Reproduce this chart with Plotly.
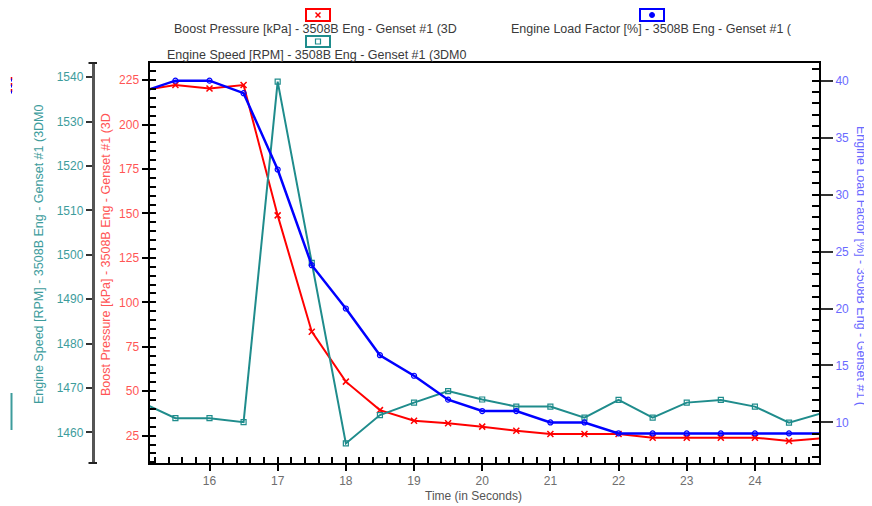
import plotly.graph_objects as go

# ---------------- data ----------------
time_s = [15.0, 15.5, 16.0, 16.5, 17.0, 17.5, 18.0, 18.5, 19.0, 19.5, 20.0,
          20.5, 21.0, 21.5, 22.0, 22.5, 23.0, 23.5, 24.0, 24.5, 25.0]
boost_kpa = [219.2, 222.2, 220.3, 222.2, 148.9, 83.5, 55.4, 39.4, 33.4, 32.0, 30.1,
             27.8, 26.0, 26.0, 26.0, 23.9, 23.9, 23.9, 23.9, 22.0, 23.6]
engine_rpm = [1466.8, 1463.2, 1463.2, 1462.3, 1539.0, 1498.2, 1457.5, 1463.9, 1466.7,
              1469.3, 1467.4, 1465.8, 1465.8, 1463.3, 1467.3, 1463.3, 1466.7, 1467.3,
              1465.8, 1462.2, 1464.4]
load_pct = [39.0, 40.0, 40.0, 38.9, 32.2, 23.8, 20.0, 15.9, 14.1, 12.0, 11.0,
            11.0, 10.0, 10.0, 9.04, 9.04, 9.04, 9.04, 9.04, 9.04, 9.04]

name_boost = "Boost Pressure [kPa] - 3508B Eng - Genset #1 (3D"
name_load = "Engine Load Factor [%] - 3508B Eng - Genset #1 ("
name_rpm = "Engine Speed [RPM] - 3508B Eng - Genset #1 (3DM0"
x_title = "Time (in Seconds)"

# ---------------- style ----------------
OFF = 8                      # browser body margin
WIN_W, WIN_H = 872, 506
W, H = WIN_W - OFF, WIN_H - OFF
TOP, BOT = 63, 463           # page pixel coordinates of plot area
PLOT_H = BOT - TOP
LEFT, RIGHT = 149.5, 819
FONT = "Liberation Sans, Arial, Helvetica, sans-serif"
RED, BLUE, TEAL = "#ff0000", "#0000ff", "#1f8c8c"
RED_T, BLUE_T, TEAL_T = "#ff5555", "#6a6aff", "#3d9c9c"
TSIZE = 12.5


def px(x):
    return (x - OFF) / W


def py(y):
    return (BOT - y) / PLOT_H


fig = go.Figure()
fig.add_trace(go.Scatter(
    x=time_s, y=boost_kpa, name=name_boost, yaxis="y", mode="lines+markers",
    line=dict(color=RED, width=2),
    marker=dict(symbol="x-thin", size=6, color=RED, line=dict(width=1.5, color=RED))))
fig.add_trace(go.Scatter(
    x=time_s, y=engine_rpm, name=name_rpm, yaxis="y2", mode="lines+markers",
    line=dict(color=TEAL, width=2),
    marker=dict(symbol="square-open", size=5, color=TEAL, line=dict(width=1.2))))
fig.add_trace(go.Scatter(
    x=time_s, y=load_pct, name=name_load, yaxis="y3", mode="lines+markers",
    line=dict(color=BLUE, width=2.5),
    marker=dict(symbol="circle-open", size=5, color=BLUE, line=dict(width=1.2))))

fig.update_layout(
    width=W, height=H,
    margin=dict(l=0, r=0, t=TOP - OFF, b=WIN_H - BOT, pad=0),
    plot_bgcolor="white", paper_bgcolor="white",
    showlegend=False,
    font=dict(family=FONT, size=12),
    xaxis=dict(
        domain=[px(LEFT), px(RIGHT)], range=[15.12, 24.94],
        tick0=0, dtick=1, ticks="outside", ticklen=6, tickwidth=2, tickcolor="black",
        showline=True, linecolor="black", linewidth=2, mirror=True,
        showgrid=False, zeroline=False,
        tickfont=dict(size=12, color="#6e6e6e", family=FONT),
        minor=dict(dtick=0.2, tick0=0, ticks="inside", ticklen=6, tickwidth=1.5,
                   tickcolor="black", showgrid=False),
    ),
    yaxis=dict(
        range=[9.65, 234.6], anchor="x", side="left",
        tick0=0, dtick=25, ticks="outside", ticklen=6, tickwidth=2, tickcolor="black",
        showline=True, linecolor="black", linewidth=2,
        showgrid=False, zeroline=False,
        tickfont=dict(size=12, color=RED_T, family=FONT),
        minor=dict(dtick=5, tick0=0, ticks="inside", ticklen=6, tickwidth=1.5,
                   tickcolor="black", showgrid=False),
    ),
    yaxis2=dict(
        range=[1453.1, 1543.2], overlaying="y", anchor="free", position=px(92.5),
        side="left", tick0=0, dtick=10, ticks="outside", ticklen=6, tickwidth=2,
        tickcolor="#333", showline=True, linecolor="#555", linewidth=2.5,
        showgrid=False, zeroline=False,
        tickfont=dict(size=12, color=TEAL_T, family=FONT),
    ),
    yaxis3=dict(
        range=[6.44, 41.55], overlaying="y", anchor="x", side="right",
        tick0=0, dtick=5, ticks="outside", ticklen=12, tickwidth=2, tickcolor="#333",
        showline=True, linecolor="black", linewidth=2,
        showgrid=False, zeroline=False,
        tickfont=dict(size=12, color=BLUE_T, family=FONT),
        minor=dict(dtick=1, tick0=0, ticks="inside", ticklen=7, tickwidth=1.5,
                   tickcolor="black", showgrid=False),
    ),
)

ann = []


def text(x, y, s, color, size=TSIZE, angle=0):
    ann.append(dict(x=px(x), y=py(y), xref="paper", yref="paper", text=s,
                    showarrow=False, xanchor="center", yanchor="middle",
                    textangle=angle, font=dict(family=FONT, size=size, color=color)))


# axis titles
text(39, 254, name_rpm, TEAL_T, TSIZE, -90)
text(106, 255, name_boost, RED_T, TSIZE, -90)
text(861, 266, name_load, BLUE_T, TSIZE, 90)
text(473, 496, x_title, "#555555", 12)
# legend texts
text(315.5, 29, name_boost, "#3a3a3a")
text(651.5, 29, name_load, "#3a3a3a")
text(317, 55, name_rpm, "#3a3a3a")
fig.update_layout(annotations=ann)

shapes = []


def seg(x0, y0, x1, y1, color, width=2, dash="solid"):
    shapes.append(dict(type="line", xref="paper", yref="paper",
                       x0=px(x0), y0=py(y0), x1=px(x1), y1=py(y1),
                       line=dict(color=color, width=width, dash=dash)))


def rect(x0, y0, x1, y1, color, width=2, fill=None):
    shapes.append(dict(type="rect", xref="paper", yref="paper",
                       x0=px(x0), y0=py(y0), x1=px(x1), y1=py(y1),
                       line=dict(color=color, width=width),
                       fillcolor=fill if fill else "rgba(0,0,0,0)"))


# legend symbols
rect(306, 9, 330, 21, RED)
seg(315.5, 12.5, 320.5, 17.5, RED, 1.5)
seg(315.5, 17.5, 320.5, 12.5, RED, 1.5)
rect(640, 9, 664, 21, BLUE)
shapes.append(dict(type="circle", xref="paper", yref="paper",
                   x0=px(649.5), y0=py(12.5), x1=px(654.5), y1=py(17.5),
                   line=dict(color=BLUE, width=1), fillcolor=BLUE))
rect(306, 36, 330, 47, TEAL)
rect(315.5, 39, 320.5, 44, TEAL, 1.2)
# RPM axis end caps
seg(88.5, TOP, 97, TOP, "#222", 2)
seg(88.5, BOT, 97, BOT, "#222", 2)
# small marks at the far left
seg(11.5, 77, 11.5, 95, RED, 1.5, "dot")
seg(11.5, 78.5, 11.5, 95, BLUE, 1, "dot")
seg(11.5, 393, 11.5, 430, TEAL_T, 2)
fig.update_layout(shapes=shapes)

fig.write_html("out.html")
